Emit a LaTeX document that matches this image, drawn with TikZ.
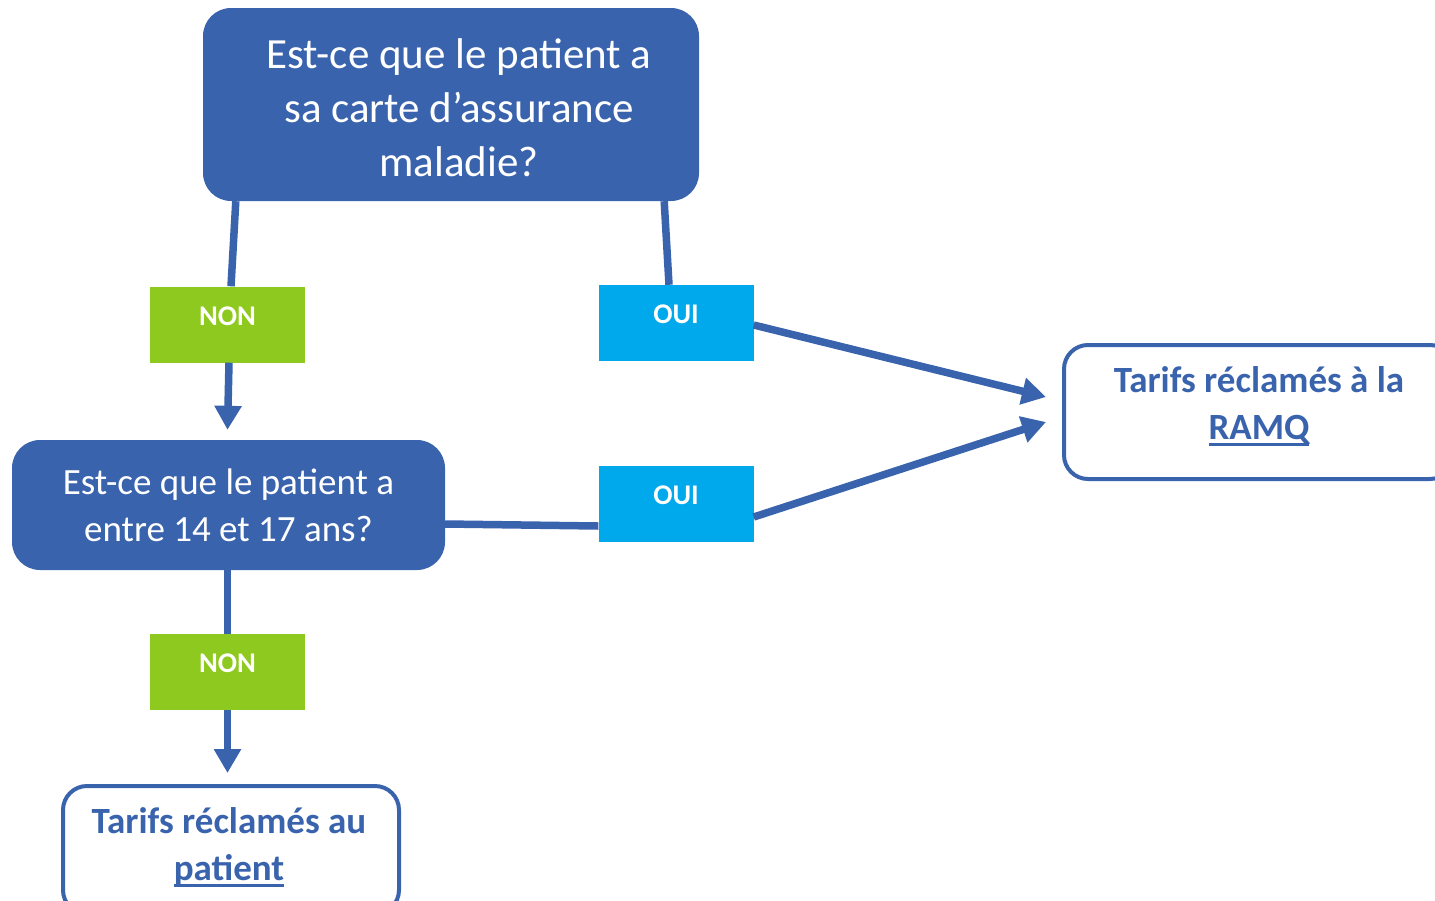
\documentclass[tikz,border=0pt]{standalone}
\usepackage{fontspec}
\setmainfont{Carlito}
\usetikzlibrary{arrows.meta,calc}
\definecolor{bblue}{HTML}{3A63AD}
\definecolor{lgreen}{HTML}{8DC91F}
\definecolor{lcyan}{HTML}{00A8EC}
\newcommand{\thickul}[1]{\setbox0\hbox{#1}\rlap{\usebox0}\rule[-6.5pt]{\wd0}{2.7pt}}
\begin{document}
\begin{tikzpicture}[x=1pt,y=-1pt,
  decision/.style={fill=bblue, rounded corners=28pt, text=white, align=center, inner sep=0pt},
  dectext/.style={text=white, align=center, inner sep=0pt},
  result/.style={draw=bblue, line width=4pt, fill=white, rounded corners=24pt, inner sep=0pt},
  restext/.style={text=bblue, align=center, inner sep=0pt, font=\fontsize{37}{47}\selectfont\bfseries},
  tag/.style={inner sep=0pt, text=white, minimum width=155pt, minimum height=76pt,
    text height=19pt, text depth=18pt, font=\fontsize{28.5}{30}\selectfont\bfseries},
  link/.style={draw=bblue, line width=7.5pt},
  arr/.style={link, -{Triangle[length=24pt,width=26pt]}}]
\useasboundingbox (0,0) rectangle (1435,900);

% decision boxes
\node[decision, minimum width=496pt, minimum height=193pt] (q1) at (451,104.5) {};
\node[dectext, font=\fontsize{43}{54}\selectfont] (q1t) at (459,108)
  {Est-ce que le patient a\\sa carte d’assurance\\maladie?};
\node[decision, minimum width=433pt, minimum height=130pt,
      font=\fontsize{37}{47}\selectfont] (q2) at (228.5,505)
  {Est-ce que le patient a\\entre 14 et 17 ans?};

% result boxes
\node[result, minimum width=390pt, minimum height=134pt] (r1) at (1259,412) {};
\node[restext] (r1t) at (1259,406) {Tarifs réclamés à la\\\thickul{RAMQ}};
\node[result, minimum width=336pt, minimum height=128pt] (r2) at (231,850) {};
\node[restext] (r2t) at (229,847) {Tarifs réclamés au\\\thickul{patient}};

% tags
\node[tag, fill=lgreen] (n1) at (227.5,324.5) {NON};
\node[tag, fill=lcyan] (o1) at (676,323) {OUI};
\node[tag, fill=lcyan] (o2) at (676,504) {OUI};
\node[tag, fill=lgreen] (n2) at (227.5,672) {NON};

% connectors
\draw[link] ([xshift=33pt]q1.south west) -- ([xshift=3.5pt]n1.north);
\draw[arr] ([xshift=1.5pt]n1.south) -- ([yshift=10pt]q2.north -| n1.south);
\draw[link] ([xshift=-35pt]q1.south east) -- ([xshift=-7pt]o1.north);
\draw[arr] ([yshift=-2pt]o1.east) -- ([xshift=-16pt,yshift=15pt]r1.west);
\draw[link] ([yshift=-19pt]q2.east) -- ([yshift=-22pt]o2.west);
\draw[arr] ([yshift=-13pt]o2.east) -- ([xshift=-16pt,yshift=-10pt]r1.west);
\draw[link] (q2.south -| n2.north) -- (n2.north);
\draw[arr] (n2.south) -- ([yshift=11pt]r2.north -| n2.south);
\end{tikzpicture}
\end{document}
